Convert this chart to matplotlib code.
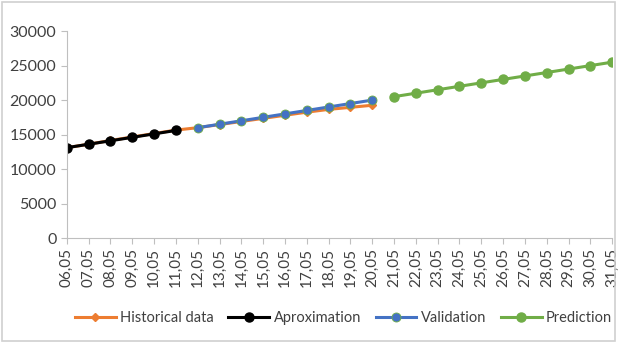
import numpy as np
import matplotlib
matplotlib.use("Agg")
import matplotlib.pyplot as plt
from matplotlib.patches import Rectangle

plt.rcParams['font.family'] = ['Lato', 'DejaVu Sans']

# daily labels 06.05 .. 31.05
dates = [f"{d:02d},05" for d in range(6, 32)]

# series values
historical = [13100, 13600, 14150, 14650, 15150, 15650, 16000, 16450, 16900,
              17350, 17800, 18250, 18650, 18950, 19250]
aproximation = [13100, 13600, 14100, 14600, 15100, 15600]
validation = [16000, 16500, 17000, 17500, 18000, 18500, 19000, 19500, 20000]
prediction = [20500, 21000, 21500, 22000, 22500, 23000, 23500, 24000, 24500,
              25000, 25500]

x = np.arange(len(dates))
x_hist = x[:len(historical)]
x_aprox = x[:len(aproximation)]
x_valid = x[len(aproximation):len(aproximation) + len(validation)]
x_pred = x[len(historical):len(historical) + len(prediction)]

fig = plt.figure(figsize=(6.19, 3.42), dpi=100)
fig.patches.append(Rectangle((0.004, 0.004), 0.99, 0.99, transform=fig.transFigure,
                             fill=False, edgecolor='#d0d0d0', lw=1.2))
ax = fig.add_axes([0.108, 0.304, 0.881, 0.605])

ax.plot(x_hist, historical, color='#ed7d31', lw=2.2, marker='D', ms=4,
        label='Historical data')
ax.plot(x_aprox, aproximation, color='black', lw=2.2, marker='o', ms=6.5,
        label='Aproximation')
ax.plot(x_valid, validation, color='#4472c4', lw=2.2, marker='o', ms=6.5,
        mec='#70ad47', mew=0.6, label='Validation')
ax.plot(x_pred, prediction, color='#70ad47', lw=2.2, marker='o', ms=6.5,
        label='Prediction')

ax.set_xlim(0, len(dates) - 1)
ax.set_ylim(0, 30000)
ax.set_yticks(range(0, 30001, 5000))
ax.set_xticks(x)
ax.set_xticklabels(dates, rotation=90)
ax.tick_params(axis='both', colors='#bfbfbf', labelcolor='#404040', length=4)
ax.tick_params(axis='y', labelsize=11.5)
ax.tick_params(axis='x', labelsize=11)
for s in ('top', 'right'):
    ax.spines[s].set_visible(False)
for s in ('left', 'bottom'):
    ax.spines[s].set_color('#bfbfbf')

fig.legend(loc='lower center', bbox_to_anchor=(0.555, 0.01), ncol=4,
           frameon=False, fontsize=10.5, handlelength=2.8, columnspacing=1.0,
           handletextpad=0.3, labelcolor='#404040')

fig.savefig('out.png', dpi=100)
